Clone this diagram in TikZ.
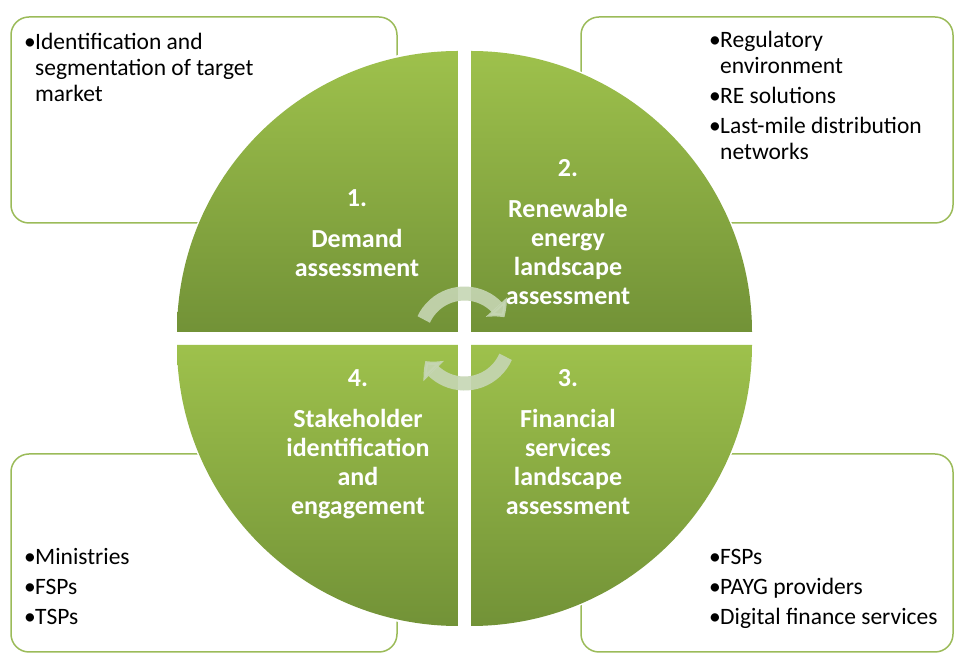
\documentclass[tikz,border=0pt]{standalone}
\usepackage{fontspec}
\setmainfont{Carlito}
\usetikzlibrary{arrows.meta,bending}
\definecolor{qLight}{RGB}{158,193,76}
\definecolor{qDark}{RGB}{114,146,55}
\definecolor{boxLine}{RGB}{155,187,89}
\definecolor{cycleArrow}{RGB}{198,214,180}
\newcommand{\bul}{\makebox[11pt][l]{•}}
\newcommand{\ind}{\hspace*{11pt}}

\begin{document}
\begin{tikzpicture}[x=1pt,y=1pt]%
  \tikzset{info box/.style={draw=boxLine,line width=1.5pt,rounded corners=18pt},
    quadrant/.style={top color=qLight,bottom color=qDark,draw=none},
    quad label/.style={text=white,font=\fontsize{26}{29}\selectfont\bfseries,align=center,anchor=base,inner sep=0pt},
    item list/.style={text=black,font=\fontsize{23.5}{26}\selectfont,align=left,anchor=base west,inner sep=0pt},
    cycle arrow/.style={draw=cycleArrow,line width=14pt,opacity=0.9,-{Triangle[bend,length=13pt,width=28pt]}}}
  \useasboundingbox (0,0) rectangle (954,653);

  % outer boxes
  \draw[info box] (11,430) rectangle (397,636);
  \draw[info box] (581,430) rectangle (953,636);
  \draw[info box] (11,1) rectangle (397,199);
  \draw[info box] (581,1) rectangle (953,199);

  % circle of four quadrants
  \coordinate (hub) at (464.5,314.5);
  \fill[white] (hub) circle (291);
  \path[quadrant] (458,321) -- (177,321) arc[start angle=180,end angle=90,radius=281] -- cycle;
  \path[quadrant] (471,321) -- (471,602) arc[start angle=90,end angle=0,radius=281] -- cycle;
  \path[quadrant] (471,308) -- (752,308) arc[start angle=0,end angle=-90,radius=281] -- cycle;
  \path[quadrant] (458,308) -- (458,27) arc[start angle=270,end angle=180,radius=281] -- cycle;

  % labels, placed by the baseline of their last line
  \node[quad label] (demand) at (357,376) {1.\\[12pt]Demand\\assessment};
  \node[quad label] (energy) at (568,348) {2.\\[12pt]Renewable\\energy\\landscape\\assessment};
  \node[quad label] (finance) at (568,138) {3.\\[12pt]Financial\\services\\landscape\\assessment};
  \node[quad label] (stake) at (358,138) {4.\\[12pt]Stakeholder\\identification\\and\\engagement};

  % cycle arrows
  \draw[cycle arrow] ([shift={(155:45)}]hub) arc[start angle=155,end angle=28,radius=45];
  \draw[cycle arrow] ([shift={(336:45)}]hub) arc[start angle=336,end angle=210,radius=45];

  % box texts
  \node[item list] (demandItems) at (24,551) {\bul Identification and\\\ind segmentation of target\\\ind market};
  \node[item list] (energyItems) at (709,493) {\bul Regulatory\\\ind environment\\[4pt]\bul RE solutions\\[4pt]\bul Last-mile distribution\\\ind networks};
  \node[item list] (stakeItems) at (24,28) {\bul Ministries\\[4pt]\bul FSPs\\[4pt]\bul TSPs};
  \node[item list] (financeItems) at (709,28) {\bul FSPs\\[4pt]\bul PAYG providers\\[4pt]\bul Digital finance services};
\end{tikzpicture}
\end{document}
